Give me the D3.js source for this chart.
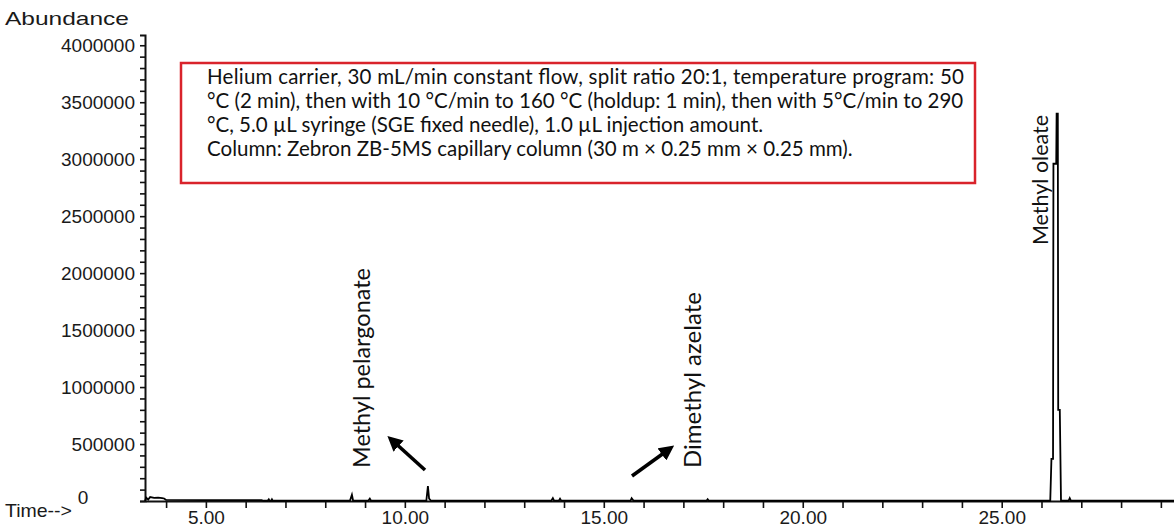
<!DOCTYPE html>
<html>
<head>
<meta charset="utf-8">
<script src="https://cdn.jsdelivr.net/npm/d3@7"></script>
<style>
  html, body { margin: 0; padding: 0; background: #fff; }
  svg { display: block; }
</style>
</head>
<body>
<svg id="chart" width="1174" height="531"></svg>
<script>
// ---------------- DATA ----------------
// Retention time (min) and abundance of the total ion chromatogram
const times = [
  3.47, 3.50, 3.55, 3.60, 3.70, 3.80, 3.90, 3.95, 4.00, 5.00, 6.00, 6.40, 6.45,
  6.55, 6.58, 6.60, 6.64, 6.66, 6.68, 8.62, 8.67, 8.70, 9.08, 9.12, 9.15,
  10.54, 10.58, 10.61, 10.66, 13.68, 13.72, 13.75, 13.87, 13.90, 13.93,
  15.67, 15.70, 15.75, 17.58, 17.61, 17.64,
  26.22, 26.25, 26.29, 26.30, 26.37, 26.38, 26.41, 26.42, 26.46, 26.49,
  26.68, 26.71, 26.74, 29.33
];
const abundance = [
  0, 30000, 12000, 35000, 28000, 30000, 26000, 22000, 9000, 8000, 8000, 7000, 2000,
  2000, 15000, 2000, 2000, 14000, 2000, 2000, 55000, 2000, 2000, 20000, 2000,
  2000, 130000, 20000, 2000, 2000, 25000, 3000, 3000, 20000, 3000,
  2000, 25000, 2000, 2000, 15000, 2000,
  2000, 370000, 370000, 2960000, 2960000, 3400000, 3400000, 800000, 800000, 2000,
  2000, 25000, 2000, 2000
];
const xTickValues = [4,5,6,7,8,9,10,11,12,13,14,15,16,17,18,19,20,21,22,23,24,25,26,27,28,29];
const xLabelValues = [5, 10, 15, 20, 25];
const yLabelValues = [500000, 1000000, 1500000, 2000000, 2500000, 3000000, 3500000, 4000000];
const peakNames = ["Methyl pelargonate", "Dimethyl azelate", "Methyl oleate"];
const boxLines = [
  "Helium carrier, 30 mL/min constant flow, split ratio 20:1, temperature program: 50",
  "°C (2 min), then with 10 °C/min to 160 °C (holdup: 1 min), then with 5°C/min to 290",
  "°C, 5.0 µL syringe (SGE fixed needle), 1.0 µL injection amount.",
  "Column: Zebron ZB-5MS capillary column (30 m × 0.25 mm × 0.25 mm)."
];

// ---------------- LAYOUT ----------------
const svg = d3.select("#chart");
const tickFont = "'Liberation Sans', Arial, sans-serif";
const boxFont = "Lato, 'Open Sans', sans-serif";
const ink = "#1a1a1a";

const x = d3.scaleLinear().domain([3.47, 29.33]).range([145, 1174]);
const y = d3.scaleLinear().domain([0, 4090000]).range([501, 35]);

// Y axis
const yTicks = d3.range(0, 4000001, 100000);
const yAxis = d3.axisLeft(y)
  .tickValues(yTicks)
  .tickSize(5)
  .tickSizeOuter(5)
  .tickPadding(5)
  .tickFormat(d => yLabelValues.includes(d) ? String(d) : "");
const gy = svg.append("g").attr("transform", "translate(145,0)").call(yAxis);
gy.selectAll("path.domain").attr("stroke", "#111").attr("stroke-width", 2);
gy.selectAll(".tick line").attr("stroke", "#111").attr("stroke-width", 1.6);
gy.selectAll(".tick text")
  .attr("font-family", tickFont).attr("font-size", 19).attr("fill", ink);

// "0" label of the y axis sits next to the Time--> title
svg.append("text").attr("x", 83).attr("y", 497).attr("dy", "0.35em")
  .attr("text-anchor", "middle")
  .attr("font-family", tickFont).attr("font-size", 19).attr("fill", ink)
  .text(String(0));

// X axis
const xAxis = d3.axisBottom(x)
  .tickValues(xTickValues)
  .tickSize(7)
  .tickSizeOuter(0)
  .tickPadding(3)
  .tickFormat(d => xLabelValues.includes(d) ? d3.format(".2f")(d) : "");
const gx = svg.append("g").attr("transform", "translate(0,501)").call(xAxis);
gx.selectAll("path.domain").attr("stroke", "#111").attr("stroke-width", 2);
gx.selectAll(".tick line").attr("stroke", "#111").attr("stroke-width", 1.6);
gx.selectAll(".tick text")
  .attr("font-family", tickFont).attr("font-size", 19).attr("fill", ink);

// Axis titles
svg.append("text").attr("x", 5).attr("y", 25)
  .attr("font-family", tickFont).attr("font-size", 19).attr("fill", ink)
  .attr("textLength", 124).attr("lengthAdjust", "spacingAndGlyphs")
  .text("Abundance");
svg.append("text").attr("x", 5).attr("y", 517)
  .attr("font-family", tickFont).attr("font-size", 19).attr("fill", ink)
  .attr("textLength", 67).attr("lengthAdjust", "spacingAndGlyphs")
  .text("Time-->");

// Chromatogram trace
const pts = times.map((t, i) => [t, abundance[i]]);
svg.append("path")
  .datum(pts)
  .attr("fill", "none")
  .attr("stroke", "#000")
  .attr("stroke-width", 1.8)
  .attr("stroke-linejoin", "miter")
  .attr("d", d3.line().x(d => x(d[0])).y(d => y(d[1])));

// Annotation box
svg.append("rect").attr("x", 181).attr("y", 63).attr("width", 794).attr("height", 120)
  .attr("fill", "#fff").attr("stroke", "#d9232b").attr("stroke-width", 2.5);

// fit font size to a target width
function fitSize(text, family, target) {
  const t = svg.append("text").attr("font-family", family).attr("font-size", 100).text(text);
  const w = t.node().getComputedTextLength();
  t.remove();
  return 100 * target / w;
}
const boxSize = fitSize(boxLines[1], boxFont, 757);
boxLines.forEach((line, i) => {
  const t = svg.append("text")
    .attr("x", 207).attr("y", 84 + i * 24)
    .attr("font-family", boxFont).attr("font-size", boxSize).attr("fill", "#111")
    .text(line);
  if (i === 0) t.attr("textLength", 757);
});

// Peak labels (rotated)
const labelPos = [
  {cx: 362, y0: 468, len: 200},
  {cx: 692, y0: 468, len: 176},
  {cx: 1040, y0: 245, len: 130}
];
peakNames.forEach((name, i) => {
  const p = labelPos[i];
  const fs = fitSize(name, boxFont, p.len);
  svg.append("text")
    .attr("transform", `translate(${p.cx + fs * 0.36},${p.y0}) rotate(-90)`)
    .attr("font-family", boxFont).attr("font-size", fs).attr("fill", "#111")
    .text(name);
});

// Arrows
svg.append("defs").append("marker")
  .attr("id", "ah").attr("viewBox", "0 0 10 10").attr("refX", 5).attr("refY", 5)
  .attr("markerWidth", 4.2).attr("markerHeight", 4.2).attr("orient", "auto")
  .append("path").attr("d", "M0,0 L10,5 L0,10 z").attr("fill", "#000");
const arrows = [
  [[425, 470], [393, 441]],
  [[632, 476], [668, 450]]
];
arrows.forEach(a => {
  svg.append("line")
    .attr("x1", a[0][0]).attr("y1", a[0][1]).attr("x2", a[1][0]).attr("y2", a[1][1])
    .attr("stroke", "#000").attr("stroke-width", 3.6)
    .attr("marker-end", "url(#ah)");
});
</script>
</body>
</html>
